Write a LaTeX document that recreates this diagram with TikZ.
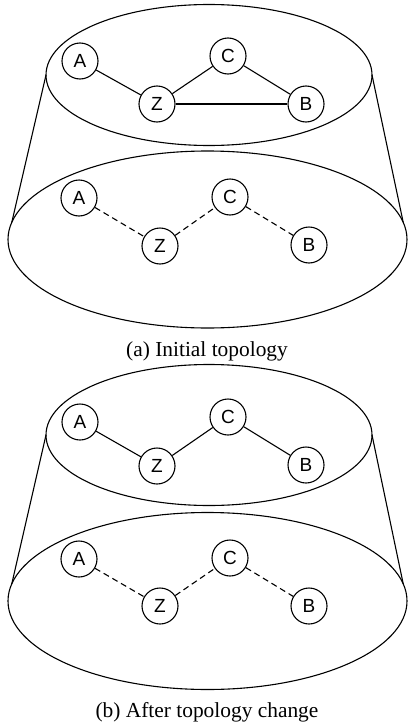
\documentclass[tikz,border=0pt]{standalone}
\usepackage{fontspec}
\setmainfont{Liberation Serif}
\newfontfamily\peerfont{Liberation Sans}
\usetikzlibrary{shapes.geometric}
\begin{document}
\begin{tikzpicture}[x=0.5pt,y=-0.5pt,
  layer/.style={ellipse, draw, line width=0.55pt, inner sep=0pt, outer sep=0pt},
  upper/.style={layer, minimum width=163pt, minimum height=70.5pt},
  lower/.style={layer, minimum width=199.5pt, minimum height=88.5pt},
  peer/.style={circle, draw, fill=white, line width=0.55pt, minimum size=18pt,
    inner sep=0pt, font=\peerfont\fontsize{9.5}{11}\selectfont},
  link/.style={line width=0.55pt},
  vlink/.style={line width=0.55pt, dash pattern=on 3pt off 2pt},
  side/.style={line width=0.55pt},
  caption/.style={anchor=base, font=\fontsize{10.7}{13}\selectfont}]
\useasboundingbox (0,0) rectangle (407,728);

% ---------- (a) initial topology ----------
\node[upper] (ua) at (209,75) {};
\node[lower] (la) at (207.5,239.5) {};
\draw[side] (ua.west) -- (la.175);
\draw[side] (ua.east) -- (la.5);

\node[peer] (aA) at (80,61)  {A};
\node[peer] (aZ) at (157,104) {Z};
\node[peer] (aC) at (228,56)  {C};
\node[peer] (aB) at (306,104) {B};
\draw[link] (aA) -- (aZ);
\draw[link] (aZ) -- (aC);
\draw[link] (aC) -- (aB);
\draw[link] (aZ) -- (aB);

\node[peer] (pA) at (79,198)  {A};
\node[peer] (pZ) at (160,246) {Z};
\node[peer] (pC) at (230,197) {C};
\node[peer] (pB) at (309,245) {B};
\draw[vlink] (pA) -- (pZ);
\draw[vlink] (pZ) -- (pC);
\draw[vlink] (pC) -- (pB);

\node[caption] (capa) at (207,356) {(a) Initial topology};

% ---------- (b) after topology change ----------
\begin{scope}[shift={(0,361)}]
\node[upper] (ub) at (209,74) {};
\node[lower] (lb) at (207.5,240) {};
\draw[side] (ub.west) -- (lb.175);
\draw[side] (ub.east) -- (lb.5);

\node[peer] (bA) at (80,61)  {A};
\node[peer] (bZ) at (157,105) {Z};
\node[peer] (bC) at (228,56)  {C};
\node[peer] (bB) at (306,104) {B};
\draw[link] (bA) -- (bZ);
\draw[link] (bZ) -- (bC);
\draw[link] (bC) -- (bB);

\node[peer] (qA) at (79,198)  {A};
\node[peer] (qZ) at (160,245) {Z};
\node[peer] (qC) at (230,197) {C};
\node[peer] (qB) at (309,245) {B};
\draw[vlink] (qA) -- (qZ);
\draw[vlink] (qZ) -- (qC);
\draw[vlink] (qC) -- (qB);

\node[caption] (capb) at (207,356) {(b) After topology change};
\end{scope}
\end{tikzpicture}
\end{document}
